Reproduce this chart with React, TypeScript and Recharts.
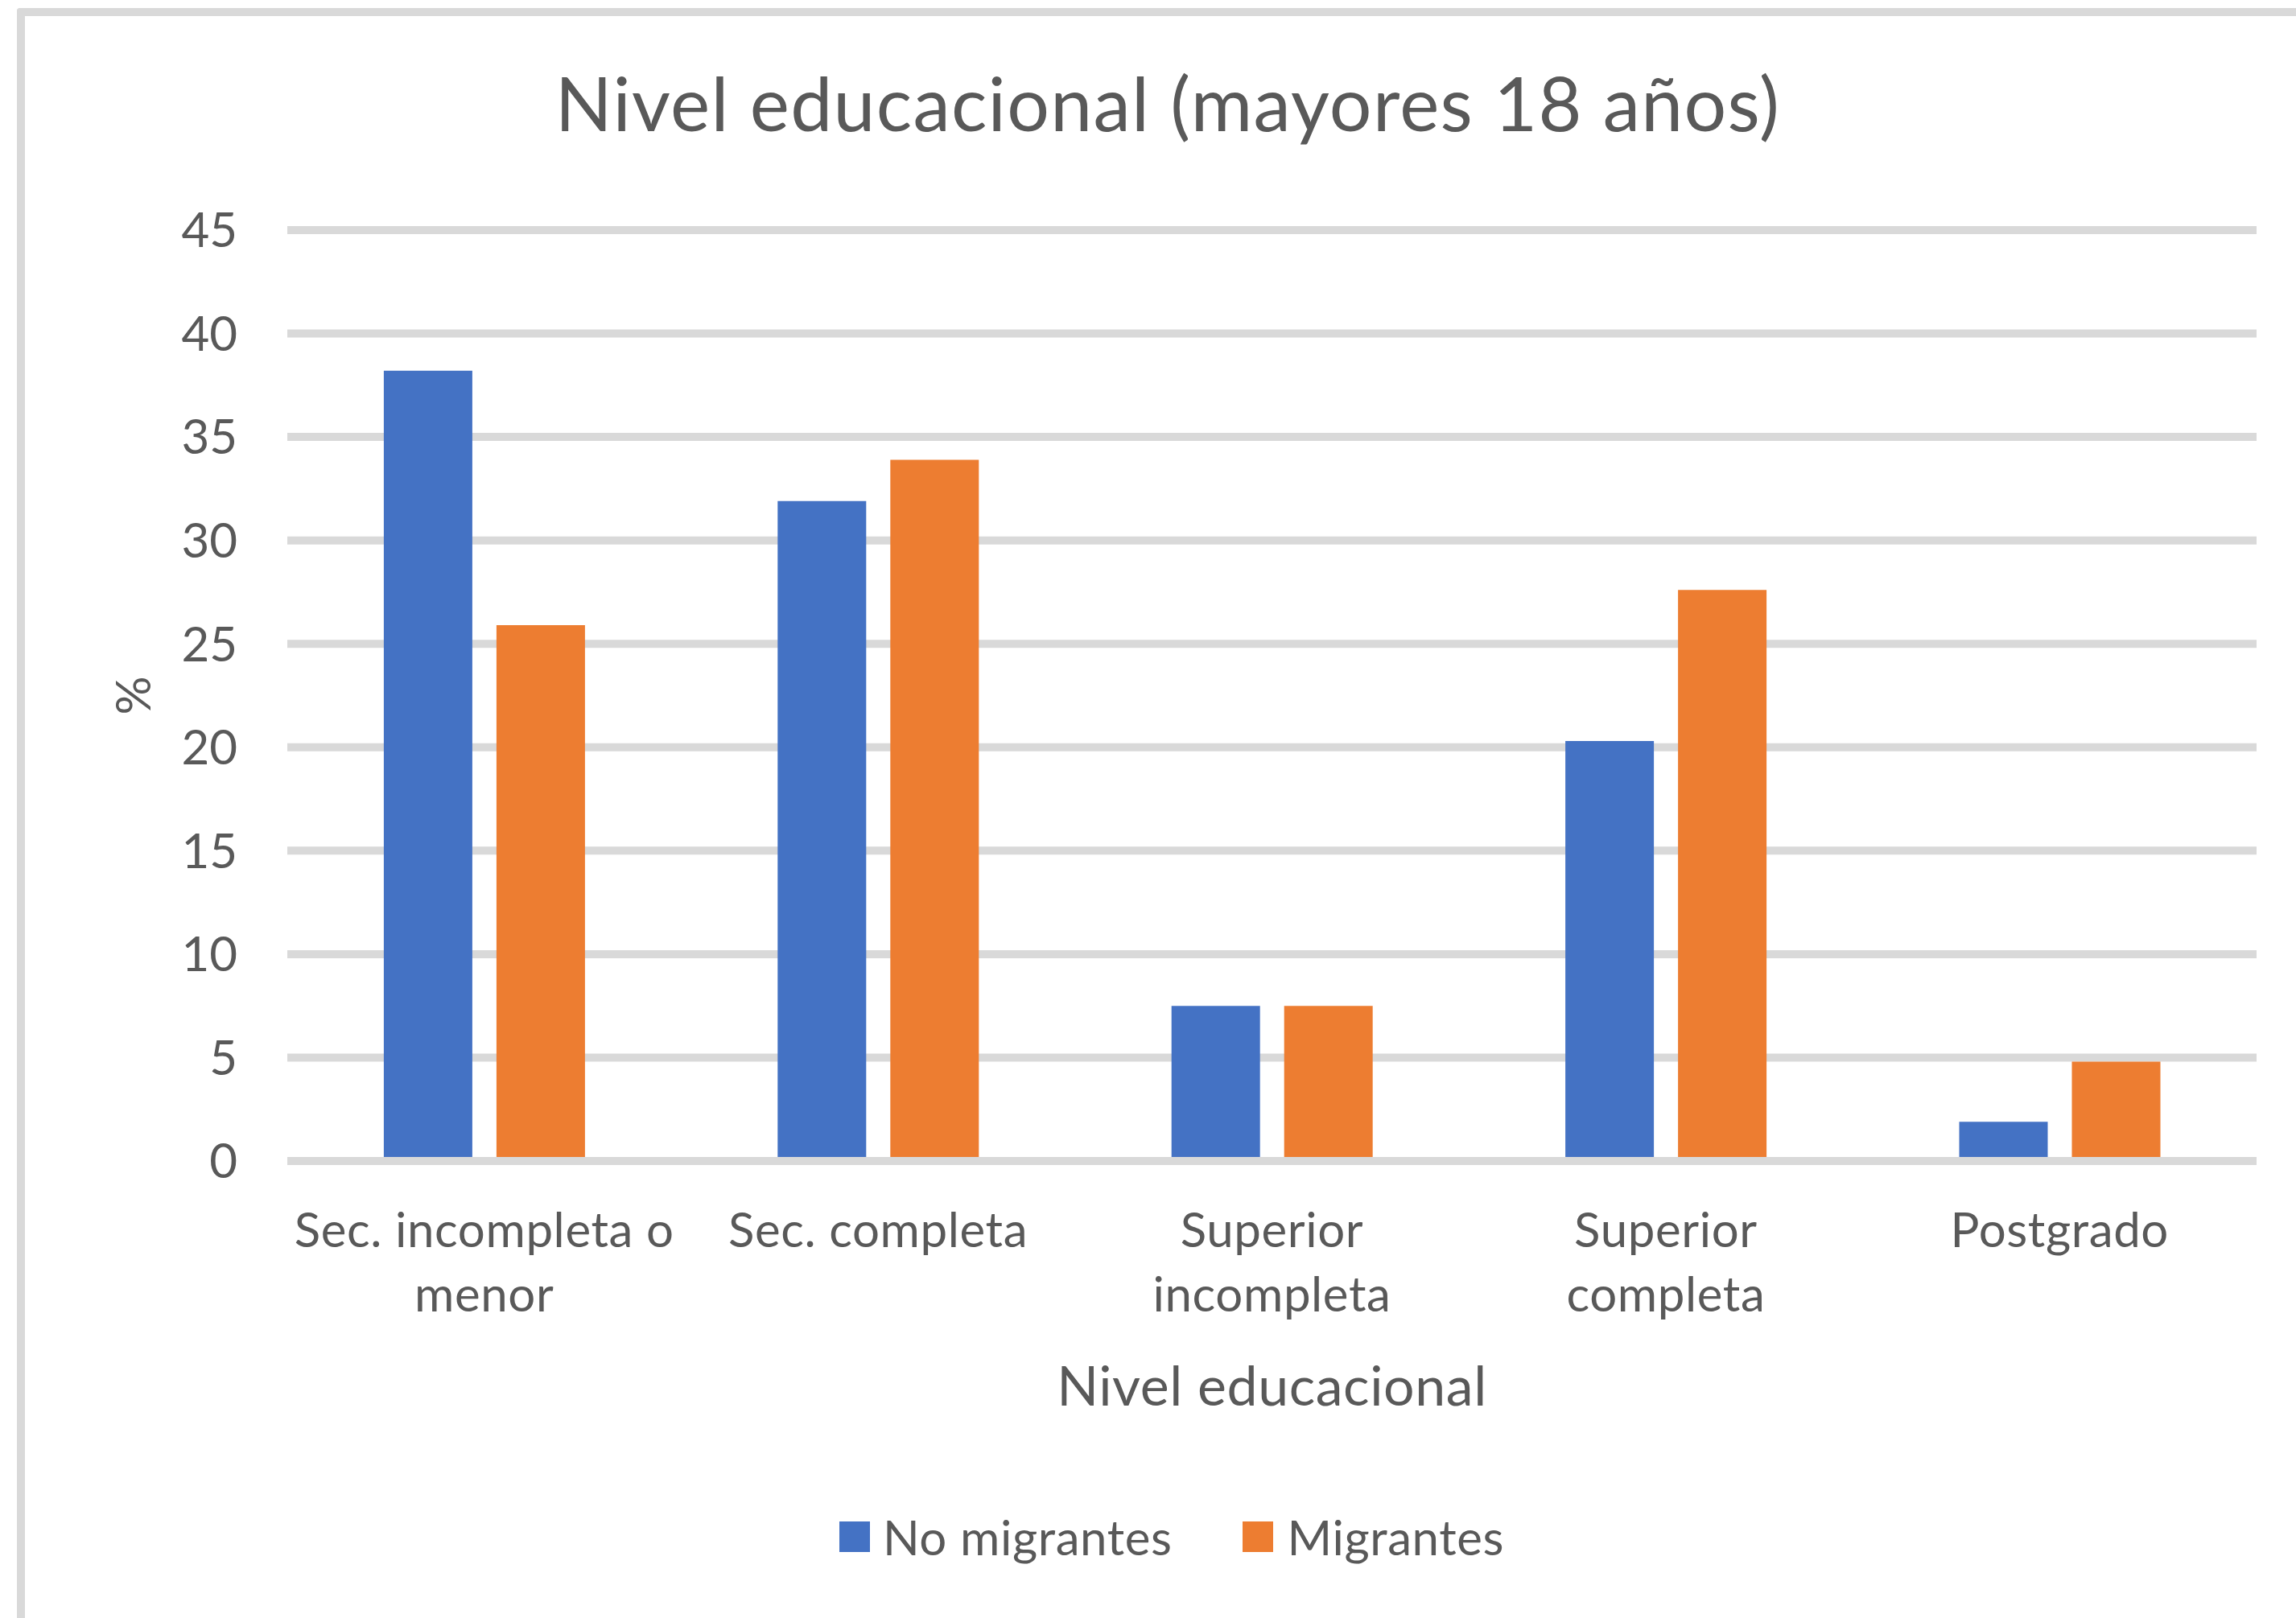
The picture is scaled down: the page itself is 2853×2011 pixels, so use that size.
import React from 'react';
import { BarChart, Bar, XAxis, YAxis, CartesianGrid, Legend, Label } from 'recharts';

const categories = ['Sec. incompleta o\nmenor', 'Sec. completa', 'Superior\nincompleta', 'Superior\ncompleta', 'Postgrado'];
const noMigrantes = [38.2, 31.9, 7.5, 20.3, 1.9];
const migrantes = [25.9, 33.9, 7.5, 27.6, 4.8];
const seriesNames = ['No migrantes', 'Migrantes'];
const yTicks = [0, 5, 10, 15, 20, 25, 30, 35, 40, 45];

const data = categories.map((name, i) => ({
  name,
  [seriesNames[0]]: noMigrantes[i],
  [seriesNames[1]]: migrantes[i],
}));

const FONT = 'Lato, "Noto Sans", sans-serif';
const TEXT = '#595959';
const GRID = '#d9d9d9';
const BLUE = '#4472C4';
const ORANGE = '#ED7D31';

const CategoryTick = (props: any) => {
  const { x, y, payload } = props;
  const lines = String(payload.value).split('\n');
  return (
    <text x={x} y={y} textAnchor="middle" fill={TEXT} fontFamily={FONT} fontSize={60} letterSpacing={0.6}>
      {lines.map((l, i) => (
        <tspan key={i} x={x} dy={i === 0 ? 107 : 80}>{l}</tspan>
      ))}
    </text>
  );
};

const LegendContent = (props: any) => {
  const items = [...(props.payload || [])].sort(
    (a: any, b: any) => seriesNames.indexOf(a.value) - seriesNames.indexOf(b.value)
  );
  return (
    <div style={{ display: 'flex', justifyContent: 'center', alignItems: 'center', height: 80 }}>
      {items.map((it: any, i: number) => (
        <div key={i} style={{ display: 'flex', alignItems: 'center', marginLeft: i === 0 ? 0 : 87 }}>
          <div style={{ width: 38, height: 38, background: it.color, marginRight: i === 0 ? 16 : 18 }} />
          <span style={{ fontFamily: FONT, fontSize: 60, color: TEXT, lineHeight: '60px', letterSpacing: 0.6 }}>{it.value}</span>
        </div>
      ))}
    </div>
  );
};

export default function App() {
  return (
    <div style={{ position: 'absolute', left: 0, top: 0, width: 2853, height: 2011, background: '#fff', overflow: 'hidden' }}>
      <div style={{
        position: 'absolute', left: 21, top: 10, width: 2832, height: 2001, boxSizing: 'border-box',
        borderLeft: `10px solid ${GRID}`, borderTop: `10px solid ${GRID}`, borderTopLeftRadius: 4,
      }} />
      <div style={{
        position: 'absolute', left: 0, width: 2902, top: 81, textAlign: 'center',
        fontFamily: FONT, fontSize: 93, lineHeight: '93px', color: TEXT, letterSpacing: 1.3,
      }}>
        Nivel educacional (mayores 18 años)
      </div>
      <div style={{ position: 'absolute', left: 0, top: 0 }}>
        <BarChart
          width={2853}
          height={2011}
          data={data}
          margin={{ top: 286, right: 49, bottom: 248, left: 0 }}
          barCategoryGap="24.5%"
          barGap={30}
        >
          <CartesianGrid vertical={false} stroke={GRID} strokeWidth={10} />
          <XAxis
            dataKey="name"
            height={320}
            tickLine={false}
            tickSize={0}
            tickMargin={0}
            axisLine={{ stroke: GRID, strokeWidth: 10 }}
            tick={<CategoryTick />}
            interval={0}
          >
            <Label
              content={(p: any) => {
                const vb = p.viewBox;
                return (
                  <text x={vb.x + vb.width / 2} y={vb.y + 304} textAnchor="middle" fill={TEXT} fontFamily={FONT} fontSize={68} letterSpacing={0.6}>
                    Nivel educacional
                  </text>
                );
              }}
            />
          </XAxis>
          <YAxis
            width={357}
            domain={[0, 45]}
            ticks={yTicks}
            interval={0}
            axisLine={false}
            tickLine={false}
            tickSize={0}
            tickMargin={62}
            tick={{ fill: TEXT, fontFamily: FONT, fontSize: 60 }}
          >
            <Label
              content={(p: any) => {
                const vb = p.viewBox;
                const cx = vb.x + 164;
                const cy = vb.y + vb.height / 2;
                return (
                  <text x={cx} y={cy} transform={`rotate(-90, ${cx}, ${cy})`} textAnchor="middle" dominantBaseline="central" fill={TEXT} fontFamily={FONT} fontSize={60}>
                    %
                  </text>
                );
              }}
            />
          </YAxis>
          <Legend
            verticalAlign="middle"
            align="center"
            layout="horizontal"
            content={<LegendContent />}
            wrapperStyle={{ left: 0, top: 1870, width: 2853, paddingLeft: 59, boxSizing: 'border-box' }}
          />
          <Bar dataKey={seriesNames[0]} fill={BLUE} isAnimationActive={false} />
          <Bar dataKey={seriesNames[1]} fill={ORANGE} isAnimationActive={false} />
        </BarChart>
      </div>
    </div>
  );
}
